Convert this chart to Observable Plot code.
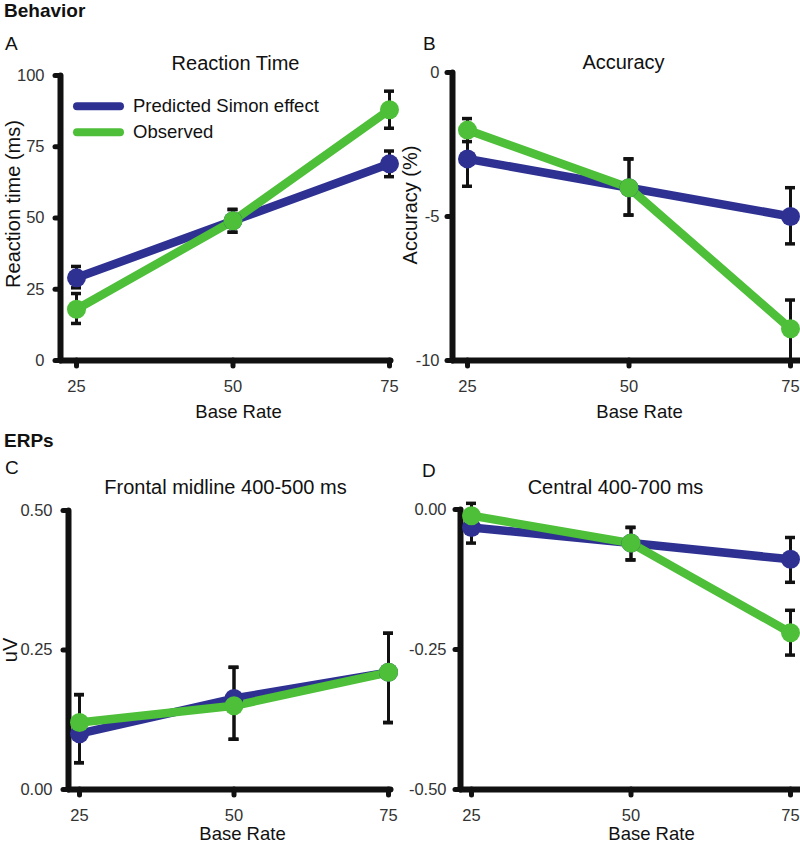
<!DOCTYPE html>
<html>
<head>
<meta charset="utf-8">
<script src="https://cdn.jsdelivr.net/npm/d3@7"></script>
<script src="https://cdn.jsdelivr.net/npm/@observablehq/plot@0.6"></script>
<style>
  html, body { margin: 0; padding: 0; background: #fff; }
  #root { position: relative; width: 800px; height: 844px; overflow: hidden;
          font-family: "Liberation Sans", Arial, sans-serif; color: #111; }
  .abs { position: absolute; white-space: nowrap; line-height: 1; transform: translateY(-50%); }
  .rot { position: absolute; white-space: nowrap; line-height: 1; transform: translate(-50%, -50%) rotate(-90deg); }
  .panel { position: absolute; }
  .swatch { display: inline-block; width: 51px; height: 8px; border-radius: 4px; vertical-align: middle; margin-right: 9px; }
</style>
</head>
<body>
<div id="root"></div>
<script>
// ---------- data ----------
const baseRates = [25, 50, 75];
const seriesNames = ["Predicted Simon effect", "Observed"];
const seriesColors = ["#2e3192", "#4dbf38"];

// A: Reaction time (ms)
const rtPredicted = [29, 49, 69];
const rtPredictedLo = [25.5, 45, 64.5];
const rtPredictedHi = [33, 53, 73.5];
const rtObserved = [18, 49, 88];
const rtObservedLo = [13, 45, 81.5];
const rtObservedHi = [23.5, 53, 94.5];
const rtTicks = [0, 25, 50, 75, 100];

// B: Accuracy (%)
const accPredicted = [-3, -4, -5];
const accPredictedLo = [-3.95, -4.95, -5.95];
const accPredictedHi = [-2.05, -3.0, -4.0];
const accObserved = [-2, -4, -8.9];
const accObservedLo = [-2.4, -4.95, -10];
const accObservedHi = [-1.6, -3.0, -7.9];
const accTicks = [-10, -5, 0];

// C: Frontal midline 400-500 ms (uV)
const fmPredicted = [0.10, 0.163, 0.21];
const fmPredictedLo = [0.048, 0.09, 0.12];
const fmPredictedHi = [0.17, 0.219, 0.28];
const fmObserved = [0.12, 0.15, 0.21];
const fmObservedLo = [0.048, 0.09, 0.12];
const fmObservedHi = [0.17, 0.219, 0.28];
const fmTicks = [0, 0.25, 0.5];

// D: Central 400-700 ms (uV)
const cePredicted = [-0.032, -0.06, -0.089];
const cePredictedLo = [-0.06, -0.09, -0.13];
const cePredictedHi = [-0.005, -0.032, -0.05];
const ceObserved = [-0.011, -0.06, -0.22];
const ceObservedLo = [-0.04, -0.09, -0.26];
const ceObservedHi = [0.011, -0.032, -0.18];
const ceTicks = [-0.5, -0.25, 0];

// ---------- helpers ----------
const FONT = '"Liberation Sans", Arial, sans-serif';
function rows(pred, predLo, predHi, obs, obsLo, obsHi) {
  const out = [];
  baseRates.forEach((x, i) => out.push({x, y: pred[i], lo: predLo[i], hi: predHi[i], series: seriesNames[0]}));
  baseRates.forEach((x, i) => out.push({x, y: obs[i], lo: obsLo[i], hi: obsHi[i], series: seriesNames[1]}));
  return out;
}

function panel(o) {
  const data = o.data;
  const ink = "#111";
  return Plot.plot({
    width: 400, height: 422,
    marginLeft: o.mL, marginRight: o.mR, marginTop: o.mT, marginBottom: o.mB,
    x: {domain: [25, 75], range: o.xRange, label: null},
    y: {domain: o.yDomain, label: null},
    color: {domain: seriesNames, range: seriesColors},
    style: {fontFamily: FONT, background: "transparent", overflow: "visible"},
    marks: [
      Plot.frame({anchor: "left", stroke: ink, strokeWidth: 6, strokeLinecap: "round"}),
      Plot.frame({anchor: "bottom", stroke: ink, strokeWidth: 6, strokeLinecap: "round"}),
      Plot.axisY({ticks: o.yTicks, tickFormat: o.fmt, tickSize: 5, tickPadding: o.yPad, label: null,
                  stroke: ink, strokeWidth: 5, strokeLinecap: "round", fill: "#333", fontSize: 16.5}),
      Plot.axisX({ticks: baseRates, tickFormat: d => String(d), tickSize: 6, tickPadding: o.xPad, label: null,
                  stroke: ink, strokeWidth: 5, strokeLinecap: "round", fill: "#333", fontSize: 16.5}),
      Plot.ruleX(data, {x: "x", y1: "lo", y2: "hi", stroke: ink, strokeWidth: 3}),
      Plot.ruleY(data, {y: "lo", x1: "x", x2: "x", insetLeft: -5, insetRight: -5, stroke: ink, strokeWidth: 3.5}),
      Plot.ruleY(data, {y: "hi", x1: "x", x2: "x", insetLeft: -5, insetRight: -5, stroke: ink, strokeWidth: 3.5}),
      Plot.line(data, {x: "x", y: "y", stroke: "series", strokeWidth: 8.5, strokeLinejoin: "round"}),
      Plot.dot(data, {x: "x", y: "y", r: 9.5, fill: "series", stroke: "none"}),
      Plot.text([o.title], {text: d => d, frameAnchor: "top", lineAnchor: "middle", dx: o.tDx, dy: o.tDy, fontSize: 20, fill: ink}),
      Plot.text(["Base Rate"], {text: d => d, frameAnchor: "bottom", lineAnchor: "middle", dx: o.xlDx, dy: o.xlDy, fontSize: 18.5, fill: ink})
    ]
  });
}

const root = document.getElementById("root");
function place(el, left, top) {
  const d = document.createElement("div");
  d.className = "panel";
  d.style.left = left + "px";
  d.style.top = top + "px";
  d.appendChild(el);
  root.appendChild(d);
}
function label(text, left, cy, size, bold, cls) {
  const d = document.createElement("div");
  d.className = cls || "abs";
  d.textContent = text;
  d.style.left = left + "px";
  d.style.top = cy + "px";
  d.style.fontSize = size + "px";
  if (bold) d.style.fontWeight = "bold";
  root.appendChild(d);
}

// ---------- panels ----------
place(panel({
  data: rows(rtPredicted, rtPredictedLo, rtPredictedHi, rtObserved, rtObservedLo, rtObservedHi),
  mL: 60, mR: 10, mT: 75, mB: 62, xRange: [76, 389],
  yDomain: [0, 100], yTicks: rtTicks, fmt: d => String(d), yPad: 11, xPad: 14,
  title: "Reaction Time", tDx: 10, tDy: -12,
  xlDx: 13, xlDy: 52
}), 0, 0);

place(panel({
  data: rows(accPredicted, accPredictedLo, accPredictedHi, accObserved, accObservedLo, accObservedHi),
  mL: 52, mR: 0, mT: 72, mB: 62, xRange: [67, 390],
  yDomain: [-10, 0], yTicks: accTicks, fmt: d => String(d), yPad: 8, xPad: 14,
  title: "Accuracy", tDx: -3, tDy: -10,
  xlDx: 13, xlDy: 52
}), 400, 0);

place(panel({
  data: rows(fmPredicted, fmPredictedLo, fmPredictedHi, fmObserved, fmObservedLo, fmObservedHi),
  mL: 68, mR: 10, mT: 88, mB: 55, xRange: [79, 388],
  yDomain: [0, 0.5], yTicks: fmTicks, fmt: d => d.toFixed(2), yPad: 11, xPad: 14,
  title: "Frontal midline 400-500 ms", tDx: -4, tDy: -23,
  xlDx: 13, xlDy: 45
}), 0, 422);

place(panel({
  data: rows(cePredicted, cePredictedLo, cePredictedHi, ceObserved, ceObservedLo, ceObservedHi),
  mL: 60, mR: 0, mT: 87, mB: 55, xRange: [71, 390],
  yDomain: [-0.5, 0], yTicks: ceTicks, fmt: d => d.toFixed(2), yPad: 9, xPad: 14,
  title: "Central 400-700 ms", tDx: -15, tDy: -22,
  xlDx: 21, xlDy: 45
}), 400, 422);

// ---------- y-axis titles ----------
label("Reaction time (ms)", 13, 204, 20, false, "rot");
label("Accuracy (%)", 410, 205, 20, false, "rot");
label("uV", 10, 650, 20, false, "rot");

// ---------- headings, panel letters ----------
label("Behavior", 4, 10, 19, true);
label("ERPs", 4, 440, 19, true);
label("A", 5, 43, 19);
label("B", 423, 43, 19);
label("C", 5, 467, 19);
label("D", 422, 470, 19);

// ---------- legend (panel A) ----------
seriesNames.forEach((name, i) => {
  const d = document.createElement("div");
  d.className = "abs";
  d.style.left = "73px";
  d.style.top = (106 + i * 26) + "px";
  d.style.fontSize = "18.5px";
  const sw = document.createElement("span");
  sw.className = "swatch";
  sw.style.background = seriesColors[i];
  const t = document.createElement("span");
  t.textContent = name;
  t.style.verticalAlign = "middle";
  d.appendChild(sw);
  d.appendChild(t);
  root.appendChild(d);
});
</script>
</body>
</html>
